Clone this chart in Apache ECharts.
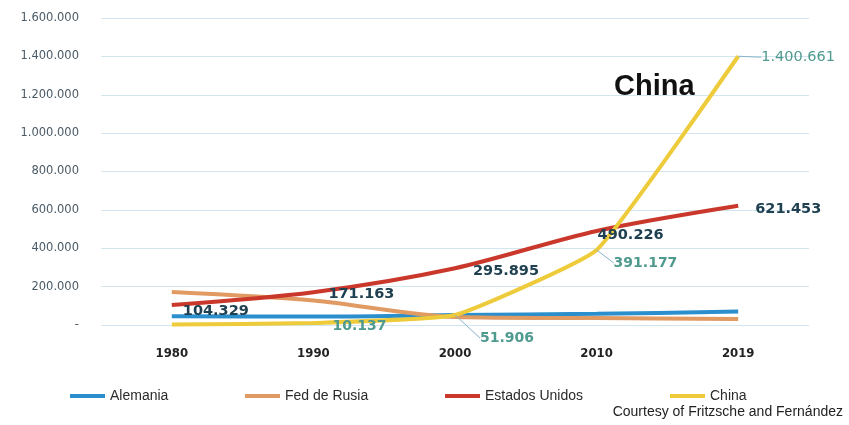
<!DOCTYPE html>
<html>
<head>
<meta charset="utf-8">
<script src="https://cdn.jsdelivr.net/npm/echarts@6/dist/echarts.min.js"></script>
<style>
html,body{margin:0;padding:0;background:#fff;}
#c{width:849px;height:425px;}
</style>
</head>
<body>
<div id="c"></div>
<script>
var categories = ['1980', '1990', '2000', '2010', '2019'];
var alemania = [45000, 44000, 52000, 58000, 70000];
var rusia = [172000, 128000, 42000, 36000, 31000];
var estadosUnidos = [104329, 171163, 295895, 490226, 621453];
var china = [3000, 10137, 51906, 391177, 1400661];
var yTicks = [0, 200000, 400000, 600000, 800000, 1000000, 1200000, 1400000, 1600000];

function fmt(v) {
  if (v === 0) return '-';
  return String(Math.round(v)).replace(/\B(?=(\d{3})+(?!\d))/g, '.');
}

var usOffsets = [[6, 6], [10, 2], [13, 3], [-4, 4], [12, 3]];
var usLabeled = [true, true, true, true, true];
var chinaLabeled = [false, true, true, true, true];
var chinaShifts = [[0, 0], [14, 3], [20, 23], [12, 13], [18, 1]];
var chinaGuide = [false, false, true, true, true];

var chart = echarts.init(document.getElementById('c'));

function legendItem(name, left) {
  return {
    left: left, top: 384, data: [name], itemWidth: 35, itemHeight: 4,
    icon: 'rect', itemGap: 0,
    textStyle: { fontFamily: 'Liberation Sans Narrow, Arial Narrow, sans-serif', fontSize: 14, color: '#2a2a2a' }
  };
}

chart.setOption({
  animation: false,
  backgroundColor: '#fff',
  grid: { left: 101, right: 40, top: 18, bottom: 100 },
  legend: [
    legendItem('Alemania', 65),
    legendItem('Fed de Rusia', 240),
    legendItem('Estados Unidos', 440),
    legendItem('China', 665)
  ],
  xAxis: {
    type: 'category', data: categories, boundaryGap: true,
    axisLine: { show: false }, axisTick: { show: false },
    axisLabel: { margin: 22, fontFamily: 'DejaVu Sans Condensed, sans-serif', fontWeight: 'bold', fontSize: 13, color: '#222' }
  },
  yAxis: {
    type: 'value', min: yTicks[0], max: yTicks[yTicks.length - 1], interval: 200000,
    axisLine: { show: false }, axisTick: { show: false },
    splitLine: { lineStyle: { color: '#d3e6f0', width: 1 } },
    axisLabel: { margin: 22, formatter: fmt, fontFamily: 'DejaVu Sans, sans-serif', fontSize: 11.5, color: '#4a5a66' }
  },
  graphic: [
    { type: 'text', left: 614, top: 72, style: { text: 'China', font: 'bold 29px Liberation Sans, Arial, sans-serif', fill: '#111' } },
    { type: 'text', right: 6, top: 405, style: { text: 'Courtesy of Fritzsche and Fernández', font: '14px Liberation Sans, Arial, sans-serif', fill: '#222', textAlign: 'right' } }
  ],
  series: [
    { name: 'Alemania', type: 'line', smooth: 0.3, data: alemania, symbol: 'none',
      lineStyle: { color: '#2a8fcc', width: 4 }, itemStyle: { color: '#2a8fcc' } },
    { name: 'Fed de Rusia', type: 'line', smooth: 0.3, data: rusia, symbol: 'none',
      lineStyle: { color: '#e09a62', width: 4 }, itemStyle: { color: '#e09a62' } },
    { name: 'Estados Unidos', type: 'line', smooth: 0.3, symbol: 'circle', symbolSize: 0,
      lineStyle: { color: '#c9382a', width: 4 }, itemStyle: { color: '#c9382a' },
      data: estadosUnidos.map(function (v, i) {
        return { value: v, label: { show: usLabeled[i], position: 'right', offset: usOffsets[i], formatter: function (p) { return fmt(p.value); },
          fontFamily: 'DejaVu Sans, sans-serif', fontWeight: 'bold', fontSize: 14.5, color: '#1e4050' } };
      })
    },
    { name: 'China', type: 'line', smooth: 0.12, symbol: 'circle', symbolSize: 0,
      lineStyle: { color: '#edcb3a', width: 4 }, itemStyle: { color: '#edcb3a' },
      data: china.map(function (v, i) {
        return { value: v,
          label: { show: chinaLabeled[i], position: 'right', formatter: function (p) { return fmt(p.value); },
            fontFamily: 'DejaVu Sans, sans-serif', fontWeight: i === 4 ? 'normal' : 'bold', fontSize: i === 4 ? 14.5 : 14, color: '#4f9a8f' },
          labelLine: { show: chinaGuide[i], lineStyle: { color: '#8ab4c8', width: 1 } } };
      }),
      labelLayout: function (p) {
        var s = chinaShifts[p.dataIndex];
        return { dx: s[0], dy: s[1] };
      }
    }
  ]
});
</script>
</body>
</html>
